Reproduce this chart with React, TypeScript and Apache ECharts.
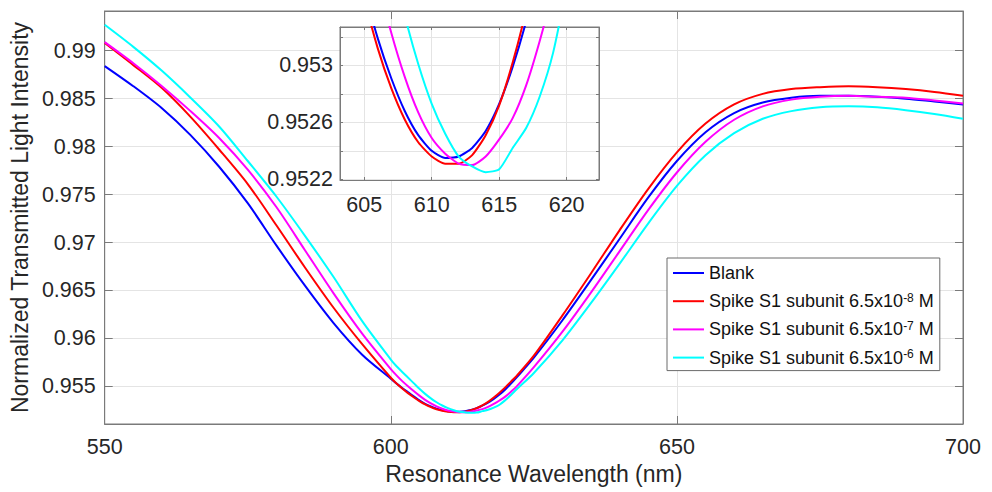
import React, { useEffect, useRef } from 'react';
import * as echarts from 'echarts';

// Resonance wavelength (nm)
const wavelengths = [
  550, 555, 560, 565, 570, 575, 580, 585, 590, 595, 600,
  601, 602, 603, 604, 605, 606, 607, 608, 609, 610, 611, 612, 613, 614, 615, 616, 617, 618, 619, 620, 621, 622,
  625, 630, 635, 640, 645, 650, 655, 660, 665, 670, 675, 680, 685, 690, 695, 700,
];

// Normalized transmitted light intensity
const blank = [
  0.9884, 0.9863, 0.984, 0.9812, 0.9779, 0.9741, 0.9697, 0.9655, 0.9616, 0.9583, 0.9558,
  0.9553, 0.95484, 0.9544, 0.95397, 0.95354, 0.95319, 0.95291, 0.95268, 0.95251, 0.9524, 0.95235, 0.95236, 0.95242, 0.95254, 0.95273, 0.95299, 0.95331, 0.9537, 0.95415, 0.95468, 0.9553, 0.95595,
  0.958, 0.9619, 0.9661, 0.9704, 0.9747, 0.9785, 0.9815, 0.9835, 0.9846, 0.9851, 0.9853, 0.9853, 0.9852, 0.985, 0.9847, 0.9844,
];
const spike8 = [
  0.9908, 0.9885, 0.9861, 0.9831, 0.9797, 0.9761, 0.9718, 0.9674, 0.9632, 0.9594, 0.9559,
  0.9553, 0.95478, 0.9543, 0.95387, 0.95347, 0.95312, 0.95284, 0.95262, 0.95246, 0.95236, 0.95231, 0.95231, 0.95237, 0.95251, 0.95272, 0.95302, 0.95339, 0.95385, 0.95435, 0.9549, 0.9555, 0.9561,
  0.9582, 0.9624, 0.9668, 0.9713, 0.9756, 0.9794, 0.9824, 0.9844, 0.9855, 0.986, 0.9862, 0.9863, 0.9862, 0.986, 0.9857, 0.9853,
];
const spike7 = [
  0.9909, 0.9887, 0.9863, 0.9837, 0.9809, 0.9776, 0.9737, 0.9692, 0.9647, 0.9605, 0.9568,
  0.95615, 0.95555, 0.95502, 0.95452, 0.95404, 0.9536, 0.95323, 0.95292, 0.95267, 0.95249, 0.95238, 0.95231, 0.9523, 0.95236, 0.95248, 0.95263, 0.95286, 0.95317, 0.95353, 0.95393, 0.95445, 0.955,
  0.957, 0.9607, 0.9648, 0.9691, 0.9734, 0.9773, 0.9805, 0.9828, 0.9842, 0.9849, 0.9852, 0.9853, 0.9852, 0.9851, 0.9848, 0.9845,
];
const spike6 = [
  0.9927, 0.9904, 0.9879, 0.9851, 0.9821, 0.9785, 0.9748, 0.9707, 0.9664, 0.9618, 0.9578,
  0.9571, 0.9565, 0.95592, 0.95534, 0.95475, 0.95422, 0.95375, 0.95335, 0.95301, 0.95273, 0.95252, 0.95236, 0.95229, 0.95225, 0.95227, 0.95242, 0.95256, 0.95278, 0.95309, 0.95356, 0.9541, 0.9547,
  0.9564, 0.9598, 0.9637, 0.9678, 0.972, 0.9759, 0.9791, 0.9814, 0.9829, 0.9837, 0.9841, 0.9842, 0.9841, 0.9838, 0.9834, 0.9829,
];

const seriesNames = [
  'Blank',
  'Spike S1 subunit 6.5x10-8 M',
  'Spike S1 subunit 6.5x10-7 M',
  'Spike S1 subunit 6.5x10-6 M',
];
const seriesValues = [blank, spike8, spike7, spike6];
const seriesColors = ['#0000ff', '#ff0000', '#ff00ff', '#00ffff'];

const FONT = '"Liberation Sans", Arial, Helvetica, sans-serif';
const AXIS_COLOR = '#7a7a7a';
const TEXT_COLOR = '#262626';
const GRID_COLOR = '#e4e4e4';
const TICK_FONT = 21.5;
const TITLE_FONT = 23;

function mainYLabel(v: number) {
  const k = v * 200;
  return Math.abs(k - Math.round(k)) < 1e-6 ? String(parseFloat(v.toFixed(3))) : '';
}
function insetYLabel(v: number) {
  const k = v * 5000;
  if (Math.abs(k - Math.round(k)) > 1e-4) return '';
  const t = Math.round(v * 10000);
  return t % 4 === 2 ? String(parseFloat((t / 10000).toFixed(4))) : '';
}
function insetXLabel(v: number) {
  return Math.abs(v / 5 - Math.round(v / 5)) < 1e-6 ? String(Math.round(v)) : '';
}
function legendLabel(name: string) {
  const m = name.match(/^(.*x10)(-\d+)( M)$/);
  if (m) return `{n|${m[1]}}{s|${m[2]}}{n|${m[3]}}`;
  return `{n|${name}}`;
}

export default function App() {
  const ref = useRef<HTMLDivElement>(null);
  useEffect(() => {
    if (!ref.current) return;
    const chart = echarts.init(ref.current, null, { renderer: 'svg' });

    const tickStyle = { color: AXIS_COLOR, width: 1 };
    const mainSeries = seriesNames.map((name, s) => ({
      name,
      type: 'line',
      xAxisIndex: 0,
      yAxisIndex: 0,
      data: wavelengths.map((w, i) => [w, seriesValues[s][i]]),
      symbol: 'none',
      smooth: 0.3,
      lineStyle: { width: 2, color: seriesColors[s] },
      itemStyle: { color: seriesColors[s] },
      z: 2,
    }));
    const insetSeries = seriesNames.map((name, s) => ({
      name,
      type: 'line',
      xAxisIndex: 2,
      yAxisIndex: 2,
      data: wavelengths.map((w, i) => [w, seriesValues[s][i]]),
      symbol: 'none',
      smooth: 0.2,
      clip: true,
      lineStyle: { width: 2, color: seriesColors[s] },
      itemStyle: { color: seriesColors[s] },
      z: 6,
    }));

    chart.setOption({
      animation: false,
      backgroundColor: '#ffffff',
      textStyle: { fontFamily: FONT },
      grid: [
        { left: 102, top: 11, right: 29, bottom: 68, show: true, borderColor: AXIS_COLOR, borderWidth: 1, backgroundColor: 'transparent' },
        { left: 340, top: 27, width: 259, height: 153, show: true, borderColor: AXIS_COLOR, borderWidth: 1, backgroundColor: '#ffffff', z: 3 },
      ],
      xAxis: [
        {
          type: 'value', gridIndex: 0, position: 'bottom', min: 550, max: 700, interval: 50,
          axisLine: { show: true, lineStyle: tickStyle },
          axisTick: { show: true, inside: true, length: 8, lineStyle: tickStyle },
          axisLabel: { fontSize: TICK_FONT, color: TEXT_COLOR, fontFamily: FONT, margin: 12 },
          splitLine: { show: true, lineStyle: { color: GRID_COLOR, width: 1 } },
          name: 'Resonance Wavelength (nm)', nameLocation: 'middle', nameGap: 27,
          nameTextStyle: { fontSize: TITLE_FONT, color: TEXT_COLOR, fontFamily: FONT },
        },
        {
          type: 'value', gridIndex: 0, position: 'top', min: 550, max: 700, interval: 50,
          axisLine: { show: true, lineStyle: tickStyle },
          axisTick: { show: true, inside: true, length: 8, lineStyle: tickStyle },
          axisLabel: { show: false }, splitLine: { show: false },
        },
        {
          type: 'value', gridIndex: 1, position: 'bottom', min: 603.2, max: 622.4, minInterval: 5, maxInterval: 5, z: 4,
          axisLine: { show: true, lineStyle: tickStyle },
          axisTick: { show: true, inside: true, length: 3, lineStyle: tickStyle },
          axisLabel: { fontSize: TICK_FONT, color: TEXT_COLOR, fontFamily: FONT, margin: 14, formatter: insetXLabel },
          splitLine: { show: true, lineStyle: { color: GRID_COLOR, width: 1 } },
        },
        {
          type: 'value', gridIndex: 1, position: 'top', min: 603.2, max: 622.4, minInterval: 5, maxInterval: 5, z: 4,
          axisLine: { show: true, lineStyle: tickStyle },
          axisTick: { show: true, inside: true, length: 3, lineStyle: tickStyle },
          axisLabel: { show: false }, splitLine: { show: false },
        },
      ],
      yAxis: [
        {
          type: 'value', gridIndex: 0, position: 'left', min: 0.95108, max: 0.99414, minInterval: 0.005, maxInterval: 0.005, splitNumber: 8,
          axisLine: { show: true, lineStyle: tickStyle },
          axisTick: { show: true, inside: true, length: 8, lineStyle: tickStyle },
          axisLabel: { fontSize: TICK_FONT, color: TEXT_COLOR, fontFamily: FONT, margin: 9, formatter: mainYLabel },
          splitLine: { show: true, lineStyle: { color: GRID_COLOR, width: 1 } },
          name: 'Normalized Transmitted Light Intensity', nameLocation: 'middle', nameGap: 60,
          nameTextStyle: { fontSize: TITLE_FONT, color: TEXT_COLOR, fontFamily: FONT },
        },
        {
          type: 'value', gridIndex: 0, position: 'right', min: 0.95108, max: 0.99414, minInterval: 0.005, maxInterval: 0.005, splitNumber: 8,
          axisLine: { show: true, lineStyle: tickStyle },
          axisTick: { show: true, inside: true, length: 8, lineStyle: tickStyle },
          axisLabel: { show: false }, splitLine: { show: false },
        },
        {
          type: 'value', gridIndex: 1, position: 'left', min: 0.952195, max: 0.95327, minInterval: 0.0002, maxInterval: 0.0002, z: 4,
          axisLine: { show: true, lineStyle: tickStyle },
          axisTick: { show: true, inside: true, length: 3, lineStyle: tickStyle },
          axisLabel: { fontSize: TICK_FONT, color: TEXT_COLOR, fontFamily: FONT, margin: 7, formatter: insetYLabel },
          splitLine: { show: true, lineStyle: { color: GRID_COLOR, width: 1 } },
        },
        {
          type: 'value', gridIndex: 1, position: 'right', min: 0.952195, max: 0.95327, minInterval: 0.0002, maxInterval: 0.0002, z: 4,
          axisLine: { show: true, lineStyle: tickStyle },
          axisTick: { show: true, inside: true, length: 3, lineStyle: tickStyle },
          axisLabel: { show: false }, splitLine: { show: false },
        },
      ],
      legend: {
        show: true,
        orient: 'vertical',
        left: 667,
        top: 258,
        padding: [6, 6, 4, 6],
        itemGap: 9.7,
        itemWidth: 31,
        itemHeight: 2,
        icon: 'rect',
        backgroundColor: '#ffffff',
        borderColor: '#6a6a6a',
        borderWidth: 1,
        borderRadius: 0,
        data: seriesNames,
        formatter: legendLabel,
        textStyle: {
          fontFamily: FONT,
          fontSize: 18,
          color: '#111111',
          rich: {
            n: { fontFamily: FONT, fontSize: 18, color: '#111111', lineHeight: 19 },
            s: { fontFamily: FONT, fontSize: 12, color: '#111111', lineHeight: 12, verticalAlign: 'top' },
          },
        },
        z: 10,
      },
      series: [...mainSeries, ...insetSeries],
    });
    return () => chart.dispose();
  }, []);
  return (
    <div
      ref={ref}
      style={{ position: 'fixed', left: 0, top: 0, width: 992, height: 492, background: '#ffffff' }}
    />
  );
}
